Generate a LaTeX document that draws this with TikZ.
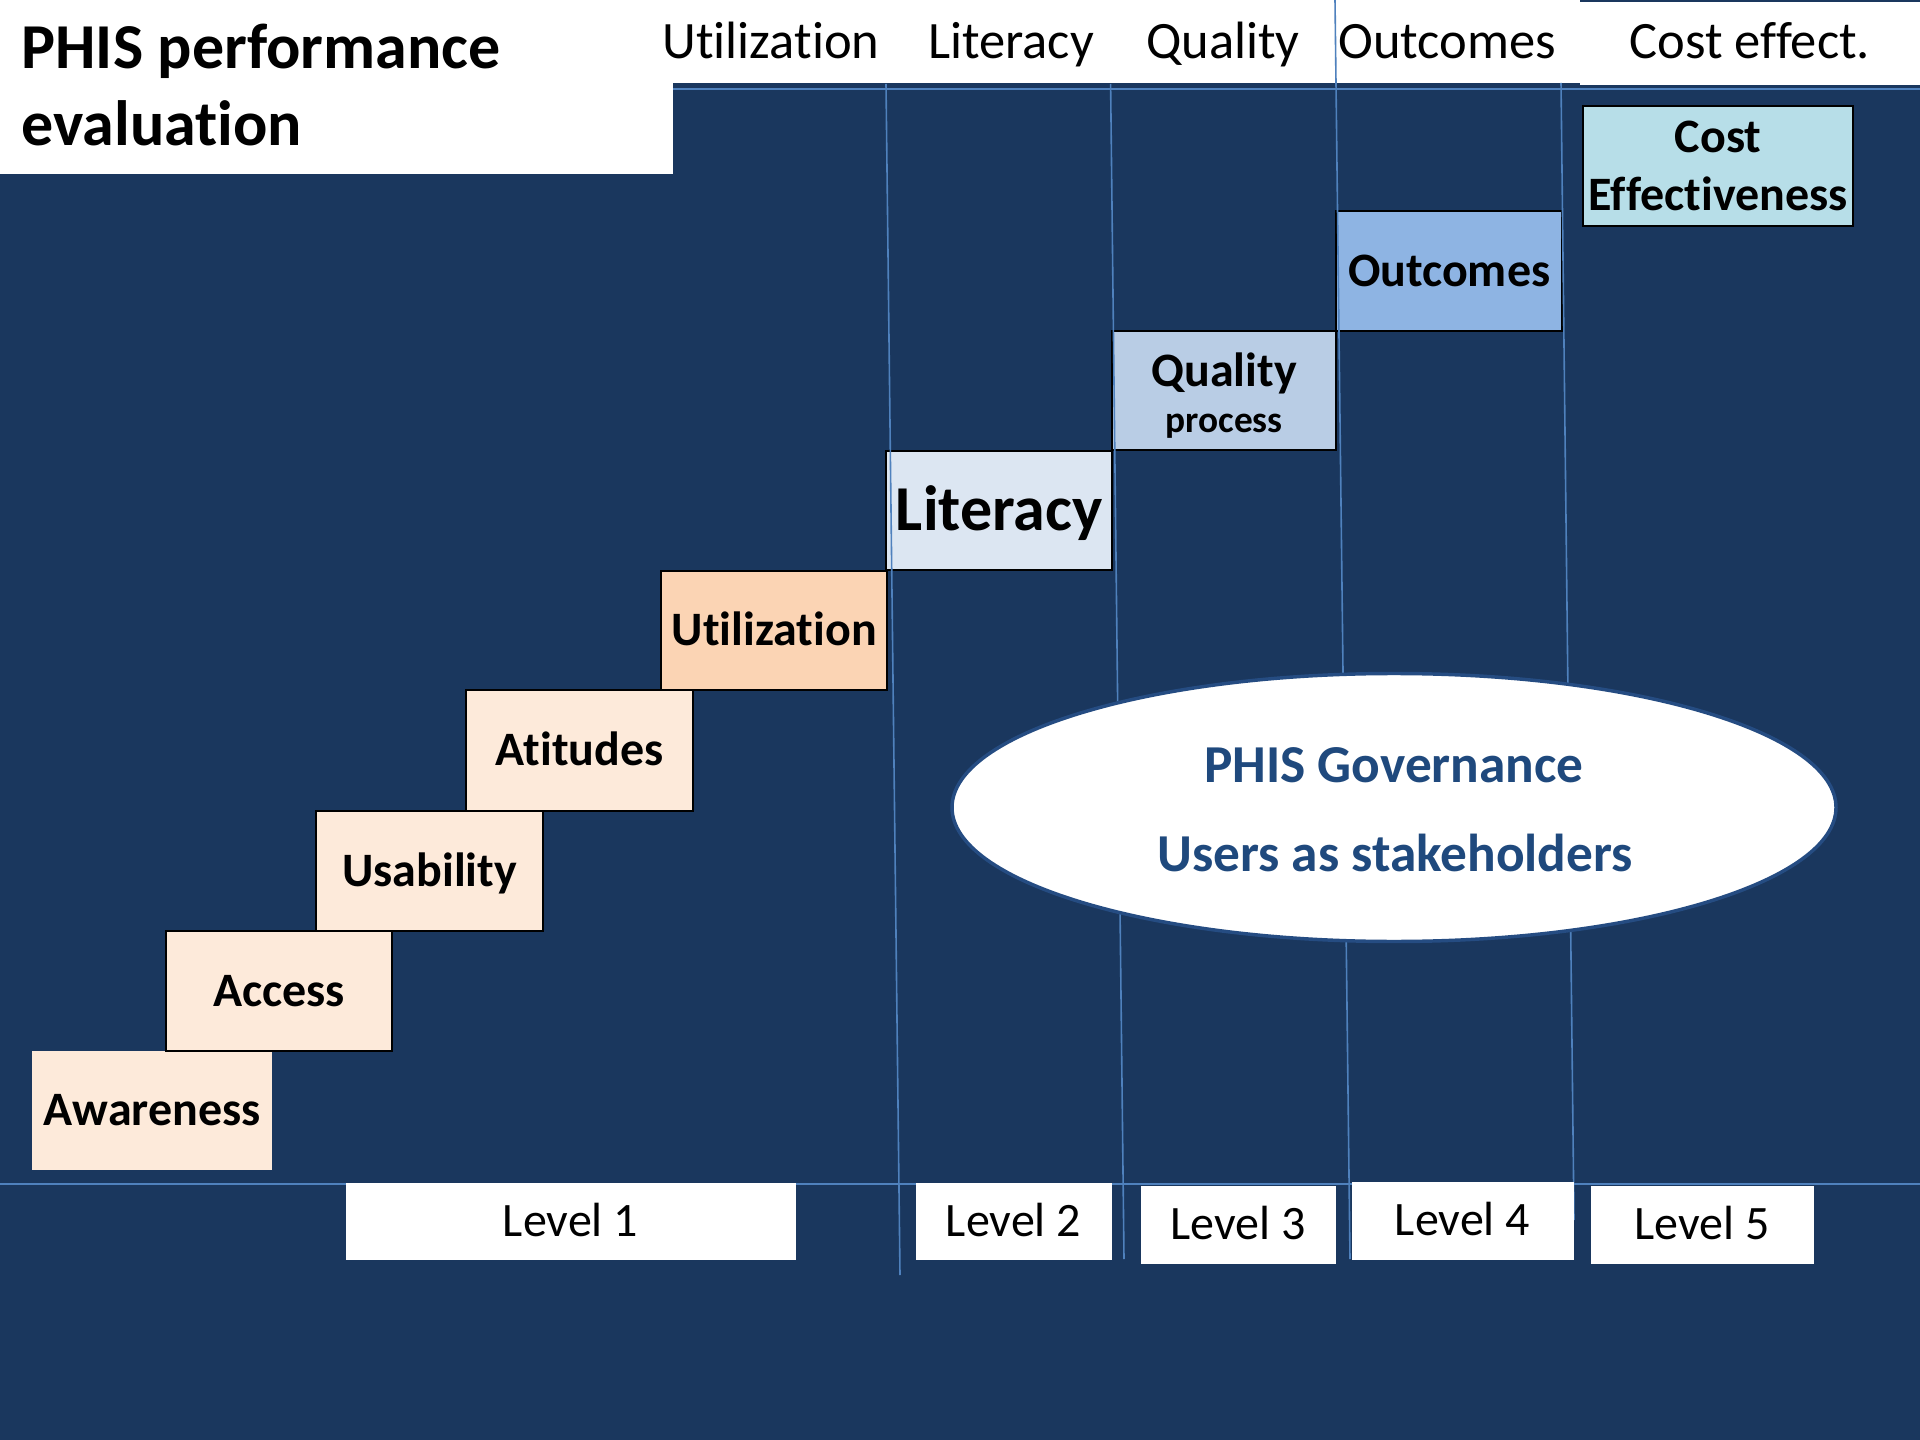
\documentclass[tikz,border=0pt]{standalone}
\usepackage{fontspec}
\setmainfont{Carlito}[Ligatures={NoCommon,NoContextual}]
\usetikzlibrary{shapes.geometric}
\definecolor{bgnavy}{RGB}{26,55,94}
\definecolor{peachA}{HTML}{FDEADA}
\definecolor{peachB}{HTML}{FBD4B4}
\definecolor{blueA}{HTML}{DCE6F2}
\definecolor{blueB}{HTML}{B9CDE5}
\definecolor{blueC}{HTML}{8EB4E3}
\definecolor{aquaA}{HTML}{B7DEE8}
\definecolor{lineblue}{HTML}{4F81BD}
\definecolor{ringblue}{RGB}{37,76,130}
\definecolor{govtext}{HTML}{1F497D}
\begin{document}
\begin{tikzpicture}[x=0.375pt,y=-0.375pt,
  stepbox/.style 2 args={draw=black, line width=0.9pt, inner sep=0pt, anchor=north west,
    minimum width=#1*0.375pt, minimum height=#2*0.375pt,
    font=\fontsize{18}{21.6}\selectfont\bfseries, text height=11.4pt, text depth=0pt},
  levelbox/.style 2 args={fill=white, draw=none, inner sep=0pt, anchor=north west,
    minimum width=#1*0.375pt, minimum height=#2*0.375pt,
    font=\fontsize{18}{21.6}\selectfont, text height=11.4pt, text depth=0pt},
  headtxt/.style={anchor=base, inner sep=0pt, font=\fontsize{19.7}{23.6}\selectfont},
  titletxt/.style={anchor=base west, inner sep=0pt, font=\fontsize{24}{28.8}\selectfont\bfseries},
  vline/.style={draw=lineblue, line width=0.6pt},
  hline/.style={draw=lineblue, line width=0.6pt},
  govtxt/.style={anchor=base, inner sep=0pt, text=govtext, font=\fontsize{20}{24}\selectfont\bfseries}
]
\useasboundingbox (0,0) rectangle (1920,1440);
% background
\fill[bgnavy] (0,0) rectangle (1920,1440);
\fill[white] (0,0) rectangle (673,174.5);
\fill[white] (672,0) rectangle (1920,83.5);
\fill[white] (1580,0) rectangle (1920,85);
\draw[bgnavy, line width=0.6pt] (1580,0.8) -- (1920,0.8);

% title
\node[titletxt] (title1) at (21,69) {PHIS performance};
\node[titletxt] (title2) at (21,146) {evaluation};

% header labels
\node[headtxt] (hUti) at (771,58.5) {Utilization};
\node[headtxt] (hLit) at (1011,58.5) {Literacy};
\node[headtxt] (hQua) at (1223,58.5) {Quality};
\node[headtxt] (hOut) at (1447,58.5) {Outcomes};
\node[headtxt] (hCost) at (1750,58.5) {Cost effect.};

% top horizontal line
\coordinate (tl) at (673,89);
\coordinate (tr) at (1920,89);
\draw[hline] (tl) -- (tr);

% step boxes
\node[stepbox={240}{119}, fill=peachA, draw=none] (aw) at (31,1050) {Awareness};
\node[stepbox={226}{120}, fill=peachA] (ac) at (165,930) {Access};
\node[stepbox={227}{120}, fill=peachA] (us) at (315,810) {Usability};
\node[stepbox={227}{121}, fill=peachA] (at) at (465,689) {Atitudes};
\node[stepbox={226}{119}, fill=peachB] (ut) at (660,570) {Utilization};
\node[stepbox={226}{119}, fill=blueA, font=\fontsize{24}{28.8}\selectfont\bfseries, text height=15.2pt] (li) at (885,450) {Literacy};
\node[stepbox={224}{119}, fill=blueB, text height=, text depth=, align=center] (qu) at (1111,330)
  {\rule{0pt}{16.5pt}Quality\\[-4.5pt]{\fontsize{14}{16.8}\selectfont process}};
\node[stepbox={226}{120}, fill=blueC] (ou) at (1335,210) {Outcomes};
\node[stepbox={270}{120}, fill=aquaA, text height=, text depth=, align=center] (ce) at (1582,105)
  {Cost\\Effectiveness};

% vertical column lines
\coordinate (a1) at (886,84);   \coordinate (a2) at (900,1275);
\coordinate (b1) at (1110.6,84); \coordinate (b2) at (1124,1259);
\coordinate (c1) at (1335,0);   \coordinate (c2) at (1350,1259);
\coordinate (d1) at (1561,83);  \coordinate (d2) at (1574,1220);
\draw[vline] (a1) -- (a2);
\draw[vline] (b1) -- (b2);
\draw[vline] (c1) -- (c2);
\draw[vline] (d1) -- (d2);

% governance ellipse
\node[ellipse, draw=ringblue, fill=white, line width=1.3pt, inner sep=0pt,
  minimum width=884*0.375pt, minimum height=268*0.375pt] (gov) at (1394,807.5) {};
\node[govtxt] (gov1) at (1394,782) {PHIS Governance};
\node[govtxt] (gov2) at (1395,871.5) {Users as stakeholders};

% bottom horizontal line
\coordinate (bl) at (0,1184);
\coordinate (br) at (1920,1184);
\draw[hline] (bl) -- (br);

% level boxes
\node[levelbox={450}{77.5}] (lv1) at (345,1182) {Level 1};
\node[levelbox={196}{77}] (lv2) at (915,1182) {Level 2};
\node[levelbox={195}{78}] (lv3) at (1140,1185) {Level 3};
\node[levelbox={222}{78.5}] (lv4) at (1351,1181) {Level 4};
\node[levelbox={223}{78}] (lv5) at (1590,1185) {Level 5};
\end{tikzpicture}
\end{document}
